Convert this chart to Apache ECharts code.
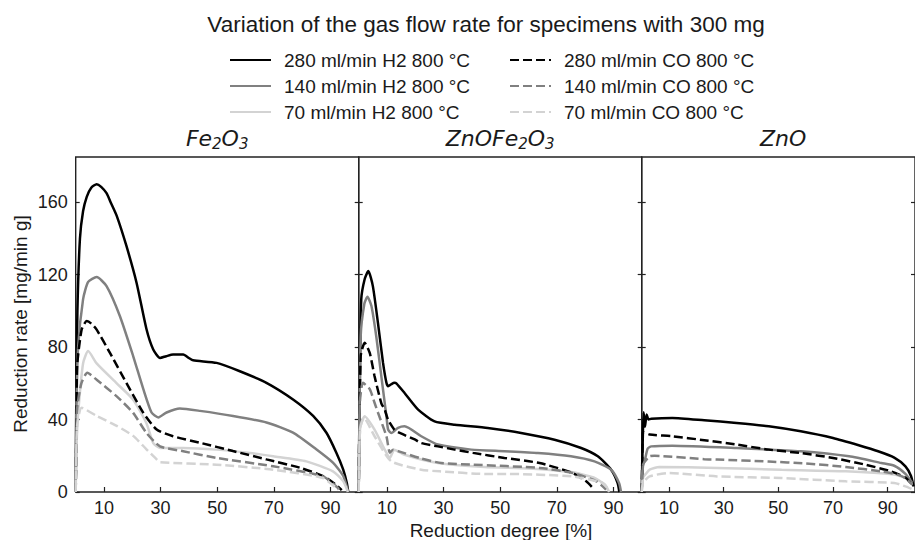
<!DOCTYPE html>
<html>
<head>
<meta charset="utf-8">
<script src="https://cdn.jsdelivr.net/npm/echarts@6/dist/echarts.min.js"></script>
<style>
html,body{margin:0;padding:0;background:#fff;}
#c{width:915px;height:540px;}
</style>
</head>
<body>
<div id="c"></div>
<script>
// ---- tick labels / categories ----
const xTicks = [10, 30, 50, 70, 90];
const yTicks = [0, 40, 80, 120, 160];
const panelTitles = ['{i|Fe}{s|2}{i|O}{s|3}', '{i|ZnOFe}{s|2}{i|O}{s|3}', '{i|ZnO}'];
const seriesNames = ['280 ml/min H2 800 °C', '140 ml/min H2 800 °C', '70 ml/min H2 800 °C',
                     '280 ml/min CO 800 °C', '140 ml/min CO 800 °C', '70 ml/min CO 800 °C'];

// ---- Fe2O3 panel ----
const fe_h2_280 = [[0,0],[0.2,50],[0.6,100],[1.5,140],[2.6,155],[3.9,163],[5.5,168],[7.4,170],[9,168.5],[10.9,165],[12.5,159.5],[14.5,152.5],[17.9,136],[21.5,115.6],[25,90],[27.4,78.7],[29.8,74],[32,75],[34.4,75.9],[38,75.9],[40,74],[41.5,72.7],[49.8,71.3],[58,66.7],[67.4,60.3],[76.8,51.1],[83.9,42],[88.6,32.7],[92.1,21.7],[94.5,12.5],[95.8,5],[96.3,0]];
const fe_h2_140 = [[0,0],[0.2,40],[0.8,78.7],[2.6,106.4],[4.4,116],[7.4,118.7],[10.9,113.7],[15.6,97.2],[20.3,75.1],[23.9,56.8],[26.8,43.9],[29.2,41.2],[32.1,43.9],[36.8,46.1],[43.9,44.8],[55.6,42],[67.4,38.4],[76.8,32.8],[85,23.6],[90.9,16.2],[94.5,9],[96.3,0]];
const fe_h2_70  = [[0,0],[0.3,25],[0.8,42],[2.6,71],[4.4,77.8],[7.4,71],[14.5,60],[20.3,51],[25,38],[27.4,27],[29.8,24.3],[38,24.3],[49.8,23.4],[61.6,21.5],[69.8,19.7],[81.5,16.9],[90.9,11.4],[94.5,6],[96.2,0]];
const fe_co_280 = [[0,0],[0.3,40],[0.5,69.5],[2.1,89.7],[3.9,94.4],[5.5,93],[7.4,89.7],[12.1,76.8],[17.9,60.3],[23.9,43.7],[28.6,34.5],[34.4,30.8],[43.9,27.2],[55.6,22.6],[67.4,18],[79.2,13.4],[87.4,8.8],[92,4],[94,1]];
const fe_co_140 = [[0,0],[0.5,45.6],[2,60],[4.1,65.8],[7.4,62],[14.5,52.8],[20.3,43.7],[25,32.6],[29.8,25.2],[38,22.5],[49.8,18.8],[69.8,14.2],[87.4,8.6],[92.7,2.2],[93,1]];
const fe_co_70  = [[0,0],[0.5,36.3],[2.1,46.5],[7.4,42],[14.5,36.5],[20.3,31],[25,23.6],[28.6,18],[29.8,16.4],[49.8,15.1],[69.8,12.3],[87.4,7.7],[92.7,1.3]];

// ---- ZnOFe2O3 panel ----
const zf_h2_280 = [[0,0],[0.4,60],[0.9,106.4],[2.1,117.5],[3.4,122],[5,113.7],[6.8,93.4],[8.6,71.3],[9.8,60.3],[10.4,58.4],[11.5,59.5],[12.6,60.3],[13.3,60],[16.2,54.7],[21,45.5],[26.8,39],[33.9,37.2],[45.6,35.4],[57.4,32.6],[69.2,28.9],[78.6,24.3],[84.5,19.7],[89.2,12.3],[91.5,5],[92.1,0]];
const zf_h2_140 = [[0,0],[0.7,86],[2,104],[3.1,107.8],[4.5,102.7],[6.2,86],[8,63.9],[9.8,41.8],[10.4,34.4],[11.5,32.6],[13.9,35.4],[16.2,36.3],[22.1,30.8],[28,26.2],[39.8,23.4],[51.5,22.5],[63.3,21.5],[75,19.7],[83.3,16.9],[89.2,12.3],[92,5],[92.7,0]];
const zf_h2_70  = [[0,0],[0.5,35],[2.1,41.8],[5.6,34.4],[9.2,23.4],[11,18.8],[12.6,23.4],[16.2,20.6],[28,16],[44.5,13.8],[60,13],[75,11],[83,8],[87,4],[88.5,0]];
const zf_co_280 = [[0,0],[0.7,75],[2.1,82.4],[3.9,76.8],[5.6,64],[8,49],[9.2,45.5],[10.4,39.8],[12.6,34.4],[13.9,33],[19.8,29],[22.1,27],[28,25.2],[33.9,23.4],[40.4,21.6],[51.5,18.8],[63.9,16],[75.6,10.5],[80.4,5.9],[83.3,1.3]];
const zf_co_140 = [[0,0],[0.4,49],[1.5,60.3],[3.9,56.8],[5.6,49.3],[6.8,43.9],[9.8,30.8],[11,21.7],[12.1,23.4],[13.9,22.6],[22.1,18.5],[29.2,16],[40.4,15.1],[63.9,13.3],[75.6,10.5],[84,5.9],[87.4,1.3]];
const zf_co_70  = [[0,0],[0.5,35],[1.8,41],[5.6,30.8],[11.5,17],[22.1,12.3],[28.6,11.4],[44.5,10],[52.1,10],[75.6,8.6],[86.2,5],[88,2]];

// ---- ZnO panel ----
const zn_h2_280 = [[0,0],[0.4,30],[0.7,44],[1.2,36],[1.8,42.8],[2.5,40],[3.5,40.5],[11.2,40.9],[22.9,39.6],[34.7,38.1],[46.5,36.3],[58.2,33.5],[70,29.8],[79.4,25.8],[86.5,22.5],[92.4,19],[96.5,14.2],[98.5,9],[99.5,3]];
const zn_h2_140 = [[0,0],[0.5,15],[1.2,17.9],[2.2,24],[3.5,25.2],[11.2,25.6],[34.7,24.3],[58.2,22.5],[75.9,19.7],[87.7,16],[92.4,14.5],[96.5,10],[99,5]];
const zn_h2_70  = [[0,0],[0.5,8],[1.5,10],[2.9,12.3],[6.4,13.8],[27.6,13.3],[51.2,12.3],[74.7,11.4],[92.4,9.6],[96.5,7.7],[99,4]];
const zn_co_280 = [[0,0],[0.4,32],[0.6,33],[2.9,31.7],[11.2,30.8],[22.9,28.6],[34.7,26.2],[46.5,23.4],[58.2,21.5],[70,18.8],[81.8,15.1],[91.2,11.4],[96.5,8],[99,4]];
const zn_co_140 = [[0,0],[0.5,15],[2.9,19.7],[4.7,20],[22.9,18.1],[27.6,17.9],[46.5,16.8],[60,15.8],[74.7,13.8],[87.7,11.4],[93.5,9.6],[96.5,7.7],[99,4]];
const zn_co_70  = [[0,0],[0.5,5],[2.9,8.6],[10,10.5],[27.6,8.6],[51.2,7.7],[74.7,5.9],[92.4,5],[96.5,3.1],[99,1.5]];

const panels = [
  [fe_h2_280, fe_h2_140, fe_h2_70, fe_co_280, fe_co_140, fe_co_70],
  [zf_h2_280, zf_h2_140, zf_h2_70, zf_co_280, zf_co_140, zf_co_70],
  [zn_h2_280, zn_h2_140, zn_h2_70, zn_co_280, zn_co_140, zn_co_70]
];

// ---- styling / layout ----
const colors = ['#000000', '#808080', '#d3d3d3', '#000000', '#808080', '#d3d3d3'];
const dashed = [false, false, false, true, true, true];
const FONT = 'Liberation Sans, Arial, sans-serif';
const TXT = '#1a1a1a';
const GL = 75.7, GW = 283, GT = 157, GH = 335;

const chart = echarts.init(document.getElementById('c'), null, {renderer: 'svg'});

const grids = [], xAxes = [], yAxes = [], series = [];
for (let i = 0; i < 3; i++) {
  grids.push({left: GL + GW * i, top: GT, width: GW, height: GH, show: true,
    borderColor: '#222', borderWidth: 1.4, backgroundColor: 'transparent', containLabel: false});
  xAxes.push({type: 'value', gridIndex: i, min: 0, max: 100,
    axisLine: {show: false},
    axisTick: {show: true, inside: true, length: 5, lineStyle: {color: '#222', width: 1.2}, customValues: xTicks},
    axisLabel: {show: true, customValues: xTicks, fontFamily: FONT, fontSize: 18, color: TXT, margin: 7},
    splitLine: {show: false}});
}
for (let i = 0; i < 3; i++) {
  yAxes.push({type: 'value', gridIndex: i, min: 0, max: 185, position: 'left',
    axisLine: {show: false},
    axisTick: {show: true, inside: true, length: 4, lineStyle: {color: '#222', width: 1.2}, customValues: yTicks},
    axisLabel: {show: i === 0, customValues: yTicks, fontFamily: FONT, fontSize: 18, color: TXT, margin: 8},
    splitLine: {show: false}});
}
for (let i = 0; i < 3; i++) {
  yAxes.push({type: 'value', gridIndex: i, min: 0, max: 185, position: 'right',
    axisLine: {show: false},
    axisTick: {show: true, inside: true, length: 4, lineStyle: {color: '#222', width: 1.2}, customValues: yTicks},
    axisLabel: {show: false},
    splitLine: {show: false}});
}
for (let i = 0; i < 3; i++) {
  for (let s = 0; s < 6; s++) {
    series.push({
      type: 'line', name: seriesNames[s], xAxisIndex: i, yAxisIndex: i,
      data: panels[i][s], symbol: 'none', showSymbol: false,
      smooth: 0.2, clip: true, animation: false,
      lineStyle: {color: colors[s], width: 2.5, type: dashed[s] ? [9, 4] : 'solid'},
      itemStyle: {color: colors[s]}
    });
  }
}

const legendBase = {orient: 'vertical', itemWidth: 41, itemHeight: 14, itemGap: 6,
  selectedMode: false, itemStyle: {opacity: 0},
  textStyle: {fontFamily: FONT, fontSize: 19, color: TXT, lineHeight: 20, padding: [0, 0, 0, 8]}};

const richSub = {
  i: {fontFamily: 'DejaVu Sans', fontStyle: 'italic', fontSize: 22, lineHeight: 26, fill: TXT, color: TXT},
  s: {fontFamily: 'DejaVu Sans', fontStyle: 'italic', fontSize: 15, lineHeight: 15, verticalAlign: 'bottom', fill: TXT, color: TXT}
};

const option = {
  animation: false,
  backgroundColor: '#fff',
  grid: grids, xAxis: xAxes, yAxis: yAxes, series: series,
  legend: [
    Object.assign({}, legendBase, {left: 224, top: 45, data: seriesNames.slice(0, 3)}),
    Object.assign({}, legendBase, {left: 504, top: 45, data: seriesNames.slice(3, 6)})
  ],
  graphic: [
    {type: 'text', x: 486, y: 24, style: {text: 'Variation of the gas flow rate for specimens with 300 mg',
      font: '22.5px ' + FONT, fill: TXT, textAlign: 'center', textVerticalAlign: 'middle'}},
    ...panelTitles.map((t, i) => ({type: 'text', x: GL + GW * i + GW / 2, y: 138,
      style: {text: t, rich: richSub, fill: TXT, textAlign: 'center', textVerticalAlign: 'middle'}})),
    {type: 'text', x: 20, y: 324, rotation: Math.PI / 2, style: {text: 'Reduction rate [mg/min g]',
      font: '19px ' + FONT, fill: TXT, textAlign: 'center', textVerticalAlign: 'middle'}},
    {type: 'text', x: 501, y: 530, style: {text: 'Reduction degree [%]',
      font: '19px ' + FONT, fill: TXT, textAlign: 'center', textVerticalAlign: 'middle'}}
  ]
};
chart.setOption(option);
</script>
</body>
</html>
